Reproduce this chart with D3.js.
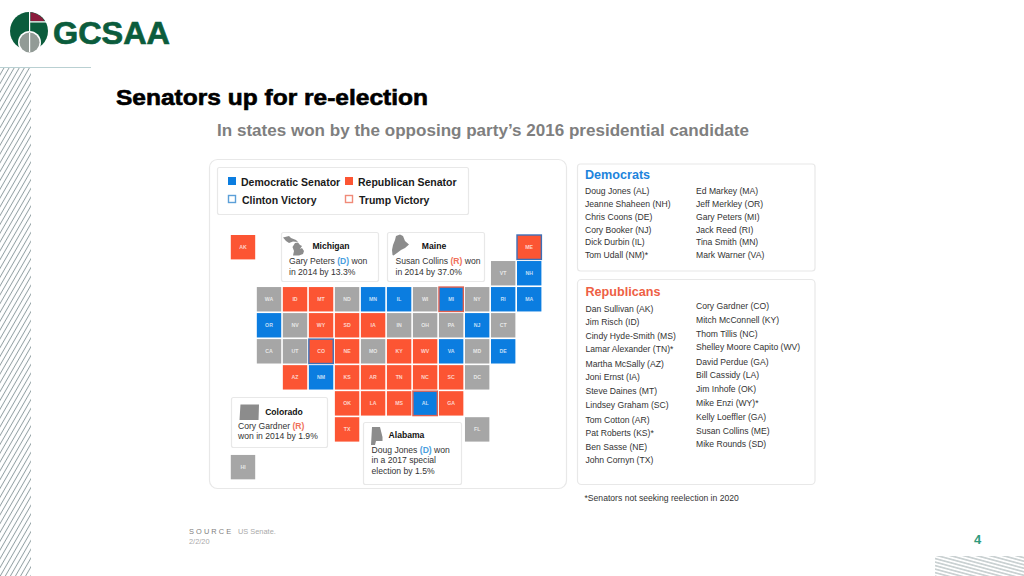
<!DOCTYPE html>
<html><head><meta charset="utf-8">
<script src="https://cdn.jsdelivr.net/npm/d3@7/dist/d3.min.js"></script>
<style>
html,body{margin:0;padding:0;background:#fff;overflow:hidden}
svg{display:block;font-family:"Liberation Sans",Arial,sans-serif}
</style></head><body>
<svg id="c" width="1024" height="576"></svg>
<script>
// ---- data ----
const stateCodes = ["AK","ME","VT","NH","WA","ID","MT","ND","MN","IL","WI","MI","NY","RI","MA","OR","NV","WY","SD","IA","IN","OH","PA","NJ","CT","CA","UT","CO","NE","MO","KY","WV","VA","MD","DE","AZ","NM","KS","AR","TN","NC","SC","DC","OK","LA","MS","AL","GA","TX","FL","HI"];
const stateCols  = [0,11,10,11,1,2,3,4,5,6,7,8,9,10,11,1,2,3,4,5,6,7,8,9,10,1,2,3,4,5,6,7,8,9,10,2,3,4,5,6,7,8,9,4,5,6,7,8,4,9,0];
const stateRows  = [0,0,1,1,2,2,2,2,2,2,2,2,2,2,2,3,3,3,3,3,3,3,3,3,3,4,4,4,4,4,4,4,4,4,4,5,5,5,5,5,5,5,5,6,6,6,6,6,7,7,8.45];
const stateSenate = ["R","R","N","D","N","R","R","N","D","D","N","D","N","D","D","D","N","R","R","R","N","N","N","D","N","N","N","R","R","N","R","R","D","N","D","R","D","R","R","R","R","R","N","R","R","R","D","R","R","N","N"];
const opposedStates = ["ME","MI","CO","AL"];
const demNamesLeft  = ["Doug Jones (AL)","Jeanne Shaheen (NH)","Chris Coons (DE)","Cory Booker (NJ)","Dick Durbin (IL)","Tom Udall (NM)*"];
const demNamesRight = ["Ed Markey (MA)","Jeff Merkley (OR)","Gary Peters (MI)","Jack Reed (RI)","Tina Smith (MN)","Mark Warner (VA)"];
const repNamesLeft  = ["Dan Sullivan (AK)","Jim Risch (ID)","Cindy Hyde-Smith (MS)","Lamar Alexander (TN)*","Martha McSally (AZ)","Joni Ernst (IA)","Steve Daines (MT)","Lindsey Graham (SC)","Tom Cotton (AR)","Pat Roberts (KS)*","Ben Sasse (NE)","John Cornyn (TX)"];
const repNamesRight = ["Cory Gardner (CO)","Mitch McConnell (KY)","Thom Tillis (NC)","Shelley Moore Capito (WV)","David Perdue (GA)","Bill Cassidy (LA)","Jim Inhofe (OK)","Mike Enzi (WY)*","Kelly Loeffler (GA)","Susan Collins (ME)","Mike Rounds (SD)"];

// ---- layout ----
const BLUE="#0b7de0", RED="#fc5533", GRAY="#a6a6a6", GREEN="#0b5c3c", BORDER="#e8e8e8", TXT="#333";
const demY=[191,204,217,229.5,242,255];
const repLeftY=[308.5,322,335.5,349,364,377,391,405,419.5,432.5,446.5,460];
const repRightY=[305.5,319.5,333.5,347,362,375,389,402.5,416.5,430.5,444];
const svg=d3.select("#c");
const defs=svg.append("defs");
const hatchA=defs.append("pattern").attr("id","hatchL").attr("patternUnits","userSpaceOnUse").attr("width",4.4).attr("height",8).attr("patternTransform","rotate(30)");
hatchA.append("line").attr("x1",2.2).attr("x2",2.2).attr("y1",0).attr("y2",8).attr("stroke","#93a1a4").attr("stroke-width",0.95);
const hatchB=defs.append("pattern").attr("id","hatchR").attr("patternUnits","userSpaceOnUse").attr("width",8).attr("height",3.4).attr("patternTransform","rotate(15)");
hatchB.append("line").attr("x1",0).attr("x2",8).attr("y1",1.7).attr("y2",1.7).attr("stroke","#9aa7a9").attr("stroke-width",0.9);

svg.append("rect").attr("x",0).attr("y",68).attr("width",31).attr("height",508).attr("fill","url(#hatchL)");
svg.append("rect").attr("x",935).attr("y",556).attr("width",89).attr("height",20).attr("fill","url(#hatchR)");
svg.append("line").attr("x1",0).attr("x2",91).attr("y1",67.5).attr("y2",67.5).attr("stroke","#b9d0d2");

// logo
const logo=svg.append("g");
logo.append("circle").attr("cx",29).attr("cy",31).attr("r",19).attr("fill",GREEN);
logo.append("path").attr("d","M30.5,12.2 A19,19 0 0 1 44.5,21 L30.5,21 Z").attr("fill","#8a1c3c");
logo.append("path").attr("d","M29.6,10 V52 M29.6,21.8 H48").attr("stroke","#fff").attr("stroke-width",1.2).attr("fill","none");
logo.append("circle").attr("cx",29.5).attr("cy",42.5).attr("r",11.5).attr("fill","#fff");
logo.append("circle").attr("cx",29.5).attr("cy",42.5).attr("r",10).attr("fill","#929b96");
logo.append("path").attr("d","M29.6,33 V52").attr("stroke","#fff").attr("stroke-width",1.2);
logo.append("text").attr("x",53).attr("y",43.5).attr("font-size",32).attr("font-weight",700).attr("fill",GREEN).attr("stroke",GREEN).attr("stroke-width",0.7).attr("textLength",117).attr("lengthAdjust","spacingAndGlyphs").text("GCSAA");

// titles
svg.append("text").attr("x",116).attr("y",105).attr("font-size",22).attr("font-weight",700).attr("fill","#000").attr("stroke","#000").attr("stroke-width",0.6).attr("textLength",312).attr("lengthAdjust","spacingAndGlyphs").text("Senators up for re-election");
svg.append("text").attr("x",217).attr("y",135.5).attr("font-size",16.5).attr("font-weight",700).attr("fill","#7f7f7f").attr("textLength",532).attr("lengthAdjust","spacingAndGlyphs").text("In states won by the opposing party\u2019s 2016 presidential candidate");

function card(x,y,w,h,r){svg.append("rect").attr("x",x+.5).attr("y",y+.5).attr("width",w).attr("height",h).attr("rx",r).attr("fill","#fff").attr("stroke",BORDER).attr("stroke-width",1.2);}
card(209,159,357,329,8);
card(217,167,251,47,2);
card(577,163.5,237.5,107,3);
card(577,279,237.5,205,4);

// legend
const lg=svg.append("g").attr("font-size",10.5).attr("font-weight",700).attr("fill","#1a1a1a");
lg.append("rect").attr("x",228).attr("y",177).attr("width",8).attr("height",8).attr("fill",BLUE);
lg.append("rect").attr("x",345).attr("y",177).attr("width",8).attr("height",8).attr("fill",RED);
lg.append("rect").attr("x",228.5).attr("y",195.5).attr("width",7).attr("height",7).attr("fill","none").attr("stroke","#5b9fd8").attr("stroke-width",1.4);
lg.append("rect").attr("x",345.5).attr("y",195.5).attr("width",7).attr("height",7).attr("fill","none").attr("stroke","#f08a78").attr("stroke-width",1.4);
lg.append("text").attr("x",241).attr("y",185.5).text("Democratic Senator");
lg.append("text").attr("x",358).attr("y",185.5).text("Republican Senator");
lg.append("text").attr("x",242).attr("y",204).text("Clinton Victory");
lg.append("text").attr("x",359).attr("y",204).text("Trump Victory");

// tile map
const tile=24.4;
const xs=d3.scaleLinear().domain([0,11]).range([230.8,517]);
const ys=d3.scaleLinear().domain([0,7]).range([235,417.2]);
const fillOf={R:RED,D:BLUE,N:GRAY};
const tiles=stateCodes.map((c,i)=>({c,col:stateCols[i],row:stateRows[i],s:stateSenate[i]}));
const g=svg.append("g").selectAll("g").data(tiles).join("g").attr("transform",d=>`translate(${xs(d.col)},${ys(d.row)})`);
g.append("rect").attr("width",tile).attr("height",tile).attr("fill",d=>fillOf[d.s]);
g.filter(d=>opposedStates.includes(d.c)).append("rect").attr("x",0).attr("y",0).attr("width",tile).attr("height",tile).attr("fill","none")
  .attr("stroke",d=>d.s==="R"?"#3d70b8":"#e0604f").attr("stroke-width",1.4);
g.append("text").attr("x",tile/2).attr("y",tile/2+1.8).attr("text-anchor","middle").attr("font-size",5.2).attr("font-weight",700).attr("fill","#fff").attr("fill-opacity",.75).text(d=>d.c);

// callout cards
function callout(x,y,w,h,head,hx,hy,lines,tx,ty,lh,shape){
  card(x,y,w,h,2);
  svg.append("path").attr("d",shape).attr("fill","#8c8c8c");
  svg.append("text").attr("x",hx).attr("y",hy).attr("text-anchor","middle").attr("font-size",8.6).attr("font-weight",700).attr("fill","#111").text(head);
  lines.forEach((l,i)=>{
    const t=svg.append("text").attr("x",tx).attr("y",ty+i*lh).attr("font-size",8.6).attr("fill",TXT);
    l.forEach(p=>{t.append("tspan").attr("fill",p.c||TXT).attr("font-weight",p.c?700:400).text(p.t)});
  });
}
const D={t:"(D)",c:"#4a9ede"},R={t:"(R)",c:"#f0705a"};
callout(281,232,97,49,"Michigan",331,249,[[{t:"Gary Peters "},D,{t:" won"}],[{t:"in 2014 by 13.3%"}]],289,264,10.5,
 "M283,237.5 L289,236 L291,238 L296,240 L298,242 L293,241.5 L289,243 L286,241 Z M292.5,247 L295,243 L298,242.5 L300,245 L302,246 L300,249 L302,248 L304,251 L303,254 L299,255.5 L293,255.5 L294,251 Z");
callout(387,232,97,49,"Maine",434,249,[[{t:"Susan Collins "},R,{t:" won"}],[{t:"in 2014 by 37.0%"}]],395.5,264,10.5,
 "M392.5,255 L392,250 L393,245 L395,240 L396,236 L400,234.5 L403,236 L405,241 L409,244.5 L405,248 L401,250 L397,253 L393.5,255.5 Z");
callout(231,397,96,50,"Colorado",284,415,[[{t:"Cory Gardner "},R],[{t:"won in 2014 by 1.9%"}]],238,429,10.3,
 "M240.5,404.5 L259,404.5 L258.5,420 L239.5,420 Z");
callout(363,422,98,62,"Alabama",406.5,438,[[{t:"Doug Jones "},D,{t:" won"}],[{t:"in a 2017 special"}],[{t:"election by 1.5%"}]],371.5,453,10.3,
 "M372,427 L380,427 L382.5,437 L382.5,441 L376,441 L375,445 L372.5,445 L371,445 Z");

// senators
const col=(names,x,yArr)=>svg.append("g").selectAll("text").data(names).join("text").attr("x",x).attr("y",(d,i)=>yArr[i]+3).attr("font-size",8.6).attr("fill",TXT).text(d=>d);
svg.append("text").attr("x",585).attr("y",179).attr("font-size",12.6).attr("font-weight",700).attr("fill","#1d84dc").text("Democrats");
svg.append("text").attr("x",585.5).attr("y",296).attr("font-size",12.6).attr("font-weight",700).attr("fill","#ee5f45").text("Republicans");
col(demNamesLeft,585,demY); col(demNamesRight,696,demY);
col(repNamesLeft,585.5,repLeftY); col(repNamesRight,696,repRightY);
svg.append("text").attr("x",584.5).attr("y",501).attr("font-size",8.6).attr("fill",TXT).text("*Senators not seeking reelection in 2020");

// footer
svg.append("text").attr("x",189).attr("y",534).attr("font-size",7.4).attr("letter-spacing",2.1).attr("fill","#808080").text("SOURCE");
svg.append("text").attr("x",238).attr("y",534).attr("font-size",7.4).attr("fill","#aaa").text("US Senate.");
svg.append("text").attr("x",189).attr("y",544).attr("font-size",7.4).attr("fill","#aaa").text("2/2/20");
svg.append("text").attr("x",974).attr("y",544).attr("font-size",13).attr("font-weight",700).attr("fill","#2f9a7c").text("4");
</script></body></html>
